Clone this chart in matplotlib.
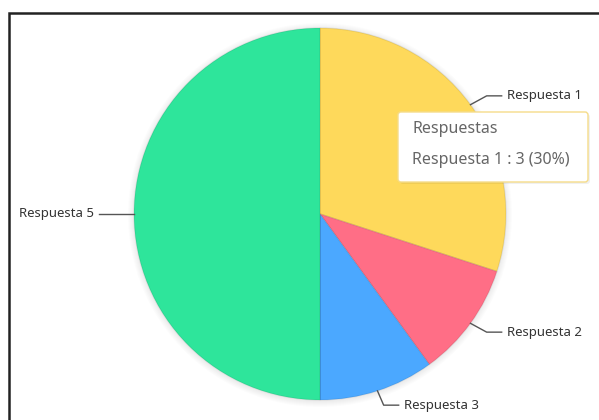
import numpy as np
import matplotlib.pyplot as plt
from matplotlib.patches import Rectangle, FancyBboxPatch, Circle

labels = ["Respuesta 1", "Respuesta 2", "Respuesta 3", "Respuesta 4", "Respuesta 5"]
counts = [3, 1, 1, 0, 5]
colors = ["#fed95b", "#ff6e86", "#4ba8ff", "#9b7ff7", "#2ee59b"]
tooltip_title = "Respuestas"

W, H = 599, 420
CX, CY, R = 320, 206, 186

plt.rcParams['font.family'] = ['Noto Sans', 'DejaVu Sans']

fig = plt.figure(figsize=(W / 100, H / 100), dpi=100)
ax = fig.add_axes([0, 0, 1, 1])

# screenshot frame
ax.add_patch(Rectangle((9, -10), W + 20, H - 13 + 10, fill=False, lw=1.8, ec="#222222"))

# soft shadow under the pie
for i in range(6):
    ax.add_patch(Circle((CX, CY - 1), R + 1 + i, color="black", alpha=0.012, lw=0, zorder=1))

wedges, _ = ax.pie(counts, colors=colors, startangle=90, counterclock=False,
                   center=(CX, CY), radius=R, frame=True,
                   wedgeprops=dict(lw=1, ec=(0, 0, 0, 0.08)))
for w in wedges:
    w.set_zorder(2)
ax.set_xlim(0, W)
ax.set_ylim(0, H)
ax.set_aspect("equal")
ax.axis("off")

# leader lines + labels
total = sum(counts)
for w, lab, c in zip(wedges, labels, counts):
    if c == 0:
        continue
    mid = np.deg2rad((w.theta1 + w.theta2) / 2)
    x0, y0 = CX + R * np.cos(mid), CY + R * np.sin(mid)
    x1, y1 = CX + (R + 20) * np.cos(mid), CY + (R + 15) * np.sin(mid)
    side = 1 if np.cos(mid) >= 0 else -1
    x2 = x1 + side * 15
    ax.plot([x0, x1, x2], [y0, y1, y1], color="#555555", lw=1, zorder=3)
    ax.text(x2 + side * 5, y1, lab, fontsize=9.5, color="#333333",
            ha="left" if side > 0 else "right", va="center", zorder=3)

# tooltip
pct = counts[0] / total * 100
ax.add_patch(FancyBboxPatch((400, H - 184), 190, 70, boxstyle="round,pad=0,rounding_size=3",
                            fc="black", alpha=0.06, ec="none", zorder=4))
ax.add_patch(FancyBboxPatch((398, H - 182), 190, 70, boxstyle="round,pad=0,rounding_size=3",
                            fc="white", ec="#f5dc8a", lw=1, zorder=5))
ax.text(412, H - 129, tooltip_title, fontsize=11.5, color="#666666", va="center", zorder=6)
ax.text(412, H - 160, f"{labels[0]} : {counts[0]} ({pct:.0f}%)", fontsize=11.5,
        color="#666666", va="center", zorder=6)

fig.savefig("out.png", dpi=100)
